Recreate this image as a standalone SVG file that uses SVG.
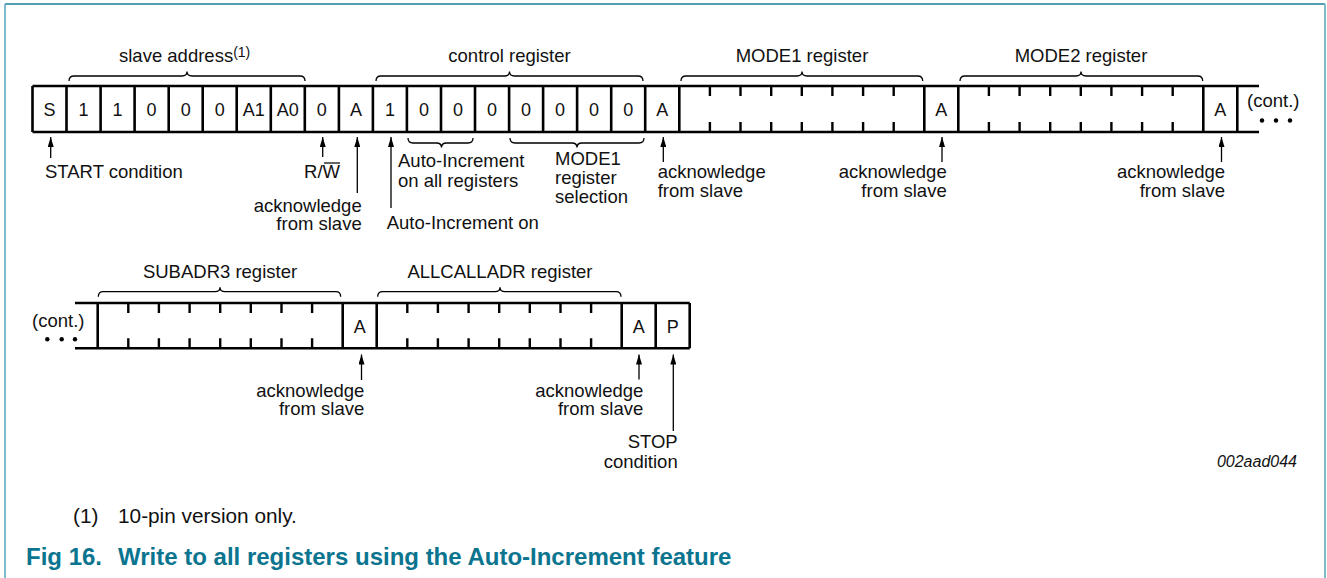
<svg xmlns="http://www.w3.org/2000/svg" width="1327" height="578" viewBox="0 0 1327 578">
<style>
text{font-family:"Liberation Sans",Arial,sans-serif;fill:#111}
.t{font-size:18.5px}
.c{font-size:18px;text-anchor:middle}
.m{text-anchor:middle}
.e{text-anchor:end}
.box{stroke:#000;stroke-width:2.6;fill:none}
.tick{stroke:#000;stroke-width:2.4;fill:none}
.br{stroke:#000;stroke-width:1.3;fill:none}
.ar{stroke:#000;stroke-width:1.3;fill:none}
.cap{font-size:24px;font-weight:bold;fill:#0b7590}
.fn{font-size:20.8px}
</style>
<defs>
<marker id="ah" viewBox="0 0 10 6" refX="10" refY="3" markerWidth="10" markerHeight="6" markerUnits="userSpaceOnUse" orient="auto">
<path d="M0,0 L10,3 L0,6 z" fill="#000"/>
</marker>
</defs>
<rect width="1327" height="578" fill="#fff"/>
<g id="frame">
<line x1="5" y1="4" x2="1325" y2="4" stroke="#1b8199" stroke-width="1.5"/>
<line x1="5" y1="4" x2="5" y2="578" stroke="#6fb5c5" stroke-width="1.8"/>
<line x1="1325" y1="4" x2="1325" y2="578" stroke="#6fb5c5" stroke-width="1.8"/>
</g>

<g id="row1">
<path class="box" d="M32.5,86 H1259 M32.5,132 H1259 M32.5,86 V132 M66.5,86 V132 M100.6,86 V132 M134.6,86 V132 M168.7,86 V132 M202.7,86 V132 M236.7,86 V132 M270.8,86 V132 M304.8,86 V132 M338.9,86 V132 M372.9,86 V132 M406.9,86 V132 M441,86 V132 M475,86 V132 M509.1,86 V132 M543.1,86 V132 M577.1,86 V132 M611.2,86 V132 M645.2,86 V132 M679.3,86 V132 M924.3,86 V132 M958.3,86 V132 M1203.3,86 V132 M1237.3,86 V132"/>
<g id="cells1" class="c">
<text x="49.5" y="116">S</text>
<text x="83.6" y="116">1</text>
<text x="117.6" y="116">1</text>
<text x="151.6" y="116">0</text>
<text x="185.7" y="116">0</text>
<text x="219.7" y="116">0</text>
<text x="253.8" y="116">A1</text>
<text x="287.8" y="116">A0</text>
<text x="321.8" y="116">0</text>
<text x="355.9" y="116">A</text>
<text x="389.9" y="116">1</text>
<text x="424" y="116">0</text>
<text x="458" y="116">0</text>
<text x="492" y="116">0</text>
<text x="526.1" y="116">0</text>
<text x="560.1" y="116">0</text>
<text x="594.1" y="116">0</text>
<text x="628.2" y="116">0</text>
<text x="662.2" y="116">A</text>
<text x="941.3" y="116">A</text>
<text x="1220.3" y="116">A</text>
</g>
<g id="mode1-reg">
<path class="tick" d="M709.9,86 v10 M740.5,86 v10 M771.2,86 v10 M801.8,86 v10 M832.4,86 v10 M863.1,86 v10 M893.7,86 v10 M709.9,132 v-10 M740.5,132 v-10 M771.2,132 v-10 M801.8,132 v-10 M832.4,132 v-10 M863.1,132 v-10 M893.7,132 v-10"/>
</g>
<g id="mode2-reg">
<path class="tick" d="M988.9,86 v10 M1019.6,86 v10 M1050.2,86 v10 M1080.8,86 v10 M1111.4,86 v10 M1142.1,86 v10 M1172.7,86 v10 M988.9,132 v-10 M1019.6,132 v-10 M1050.2,132 v-10 M1080.8,132 v-10 M1111.4,132 v-10 M1142.1,132 v-10 M1172.7,132 v-10"/>
</g>
<g id="cont1">
<text class="t" x="1247" y="106.5">(cont.)</text>
<circle cx="1262" cy="120.5" r="2.2" fill="#000"/>
<circle cx="1276" cy="120.5" r="2.2" fill="#000"/>
<circle cx="1290" cy="120.5" r="2.2" fill="#000"/>
</g>
</g>

<g id="row2">
<path class="box" d="M75,303 H689.7 M75,348.3 H689.7 M97.7,303 V348.3 M342.7,303 V348.3 M376.7,303 V348.3 M621.7,303 V348.3 M655.7,303 V348.3 M689.7,303 V348.3"/>
<g id="subadr3-reg">
<path class="tick" d="M128.3,303 v10 M158.9,303 v10 M189.6,303 v10 M220.2,303 v10 M250.8,303 v10 M281.5,303 v10 M312.1,303 v10 M128.3,348.3 v-10 M158.9,348.3 v-10 M189.6,348.3 v-10 M220.2,348.3 v-10 M250.8,348.3 v-10 M281.5,348.3 v-10 M312.1,348.3 v-10"/>
</g>
<g id="allcalladr-reg">
<path class="tick" d="M407.3,303 v10 M437.9,303 v10 M468.6,303 v10 M499.2,303 v10 M529.8,303 v10 M560.5,303 v10 M591.1,303 v10 M407.3,348.3 v-10 M437.9,348.3 v-10 M468.6,348.3 v-10 M499.2,348.3 v-10 M529.8,348.3 v-10 M560.5,348.3 v-10 M591.1,348.3 v-10"/>
</g>
<g id="cells2" class="c">
<text x="359.7" y="333">A</text>
<text x="638.7" y="333">A</text>
<text x="672.7" y="333">P</text>
</g>
<g id="cont2">
<text class="t" x="32" y="327.3">(cont.)</text>
<circle cx="47.3" cy="339.3" r="2.2" fill="#000"/>
<circle cx="61.7" cy="339.3" r="2.2" fill="#000"/>
<circle cx="75" cy="339.3" r="2.2" fill="#000"/>
</g>
</g>

<g id="braces">
<path class="br" d="M69,81 Q69,76 74,76 H182 Q187,76 187,71.5 Q187,76 192,76 H300 Q305,76 305,81"/>
<path class="br" d="M376,81 Q376,76 381,76 H504.5 Q509.5,76 509.5,71.5 Q509.5,76 514.5,76 H638 Q643,76 643,81"/>
<path class="br" d="M681,81 Q681,76 686,76 H797 Q802,76 802,71.5 Q802,76 807,76 H917.7 Q922.7,76 922.7,81"/>
<path class="br" d="M960,81 Q960,76 965,76 H1076 Q1081,76 1081,71.5 Q1081,76 1086,76 H1197.7 Q1202.7,76 1202.7,81"/>
<path class="br" d="M408,138 Q408,143 413,143 H436.5 Q441.5,143 441.5,147.5 Q441.5,143 446.5,143 H468 Q473,143 473,138"/>
<path class="br" d="M510,138 Q510,143 515,143 H572 Q577,143 577,147.5 Q577,143 582,143 H639 Q644,143 644,138"/>
<path class="br" d="M98.3,296.7 Q98.3,291.7 103.3,291.7 H215 Q220,291.7 220,287.2 Q220,291.7 225,291.7 H335.7 Q340.7,291.7 340.7,296.7"/>
<path class="br" d="M377.7,296.7 Q377.7,291.7 382.7,291.7 H495 Q500,291.7 500,287.2 Q500,291.7 505,291.7 H616 Q621,291.7 621,296.7"/>
</g>

<g id="labels" class="t">
<text x="119" y="61.7">slave address<tspan font-size="14" dy="-5">(1)</tspan></text>
<text class="m" x="509.5" y="61.7">control register</text>
<text class="m" x="802" y="61.7">MODE1 register</text>
<text class="m" x="1081" y="61.7">MODE2 register</text>
<text class="m" x="220" y="278.3">SUBADR3 register</text>
<text class="m" x="500" y="278.3">ALLCALLADR register</text>
<text x="45" y="178.3">START condition</text>
<text class="e" x="340" y="178.3">R/W</text>
<text class="e" x="361.7" y="211.5">acknowledge</text>
<text class="e" x="361.7" y="230.3">from slave</text>
<text x="398" y="167">Auto-Increment</text>
<text x="398" y="186.7">on all registers</text>
<text x="386.7" y="229.3">Auto-Increment on</text>
<text x="555" y="165">MODE1</text>
<text x="555" y="184">register</text>
<text x="555" y="202.7">selection</text>
<text x="657.7" y="178.3">acknowledge</text>
<text x="657.7" y="197.3">from slave</text>
<text class="e" x="946.7" y="178.3">acknowledge</text>
<text class="e" x="946.7" y="197.3">from slave</text>
<text class="e" x="1225" y="178.3">acknowledge</text>
<text class="e" x="1225" y="197.3">from slave</text>
<text class="e" x="364.3" y="396.5">acknowledge</text>
<text class="e" x="364.3" y="415">from slave</text>
<text class="e" x="643.3" y="396.5">acknowledge</text>
<text class="e" x="643.3" y="415">from slave</text>
<text class="e" x="677.7" y="448.3">STOP</text>
<text class="e" x="677.7" y="467.7">condition</text>
</g>
<line x1="324" y1="163" x2="340" y2="163" stroke="#111" stroke-width="1.3"/>

<g id="connectors">
<line class="ar" x1="50.7" y1="158" x2="50.7" y2="137" marker-end="url(#ah)"/>
<line class="ar" x1="322.7" y1="157" x2="322.7" y2="137" marker-end="url(#ah)"/>
<line class="ar" x1="357.3" y1="193" x2="357.3" y2="137" marker-end="url(#ah)"/>
<line class="ar" x1="391" y1="208" x2="391" y2="137" marker-end="url(#ah)"/>
<line class="ar" x1="663.3" y1="162" x2="663.3" y2="137" marker-end="url(#ah)"/>
<line class="ar" x1="942" y1="162" x2="942" y2="137" marker-end="url(#ah)"/>
<line class="ar" x1="1221.5" y1="162" x2="1221.5" y2="137" marker-end="url(#ah)"/>
<line class="ar" x1="361.5" y1="380" x2="361.5" y2="354.5" marker-end="url(#ah)"/>
<line class="ar" x1="639" y1="379.5" x2="639" y2="354.5" marker-end="url(#ah)"/>
<line class="ar" x1="673.3" y1="431" x2="673.3" y2="354.5" marker-end="url(#ah)"/>
</g>

<text x="1297" y="467.3" font-size="16" font-style="italic" text-anchor="end">002aad044</text>
<g id="footnote">
<text class="fn" x="73" y="523">(1)</text>
<text class="fn" x="118" y="523">10-pin version only.</text>
</g>
<g id="caption">
<text class="cap" x="26" y="565">Fig 16.</text>
<text class="cap" x="118" y="565">Write to all registers using the Auto-Increment feature</text>
</g>
</svg>
